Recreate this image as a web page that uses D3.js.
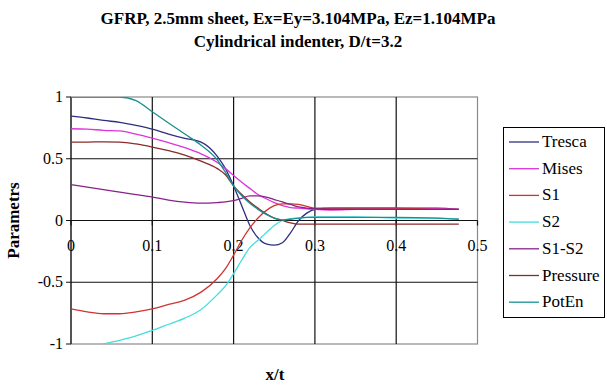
<!DOCTYPE html>
<html>
<head>
<meta charset="utf-8">
<script src="https://cdn.jsdelivr.net/npm/d3@7"></script>
<style>
  body { margin: 0; background: #fff; }
  svg { display: block; }
  svg text { font-family: "Liberation Serif", "Times New Roman", serif; }
</style>
</head>
<body>
<script>
// x/t sample points shared by all series
const xValues = [0, 0.02, 0.04, 0.06, 0.08, 0.1, 0.12, 0.14, 0.16, 0.18, 0.19, 0.2, 0.21, 0.22,
    0.23, 0.24, 0.25, 0.26, 0.27, 0.28, 0.29, 0.3, 0.32, 0.35, 0.4, 0.45, 0.477];

const tresca = [0.846, 0.83, 0.81, 0.795, 0.77, 0.74, 0.70, 0.665, 0.635, 0.52, 0.42, 0.28, 0.12, -0.04,
    -0.14, -0.19, -0.2, -0.18, -0.1, 0.0, 0.06, 0.09, 0.1, 0.1, 0.1, 0.1, 0.09];
const mises = [0.743, 0.74, 0.73, 0.725, 0.70, 0.667, 0.63, 0.59, 0.54, 0.47, 0.42, 0.365, 0.31, 0.26,
    0.21, 0.176, 0.145, 0.12, 0.105, 0.1, 0.095, 0.09, 0.085, 0.09, 0.095, 0.095, 0.09];
const s1 = [-0.716, -0.74, -0.755, -0.755, -0.74, -0.716, -0.68, -0.645, -0.58, -0.47, -0.39, -0.28, -0.16, -0.06,
    0.02, 0.08, 0.12, 0.135, 0.135, 0.13, 0.115, 0.1, 0.1, 0.1, 0.1, 0.09, 0.09];
const s2 = [-1.08, -1.04, -1.0, -0.97, -0.935, -0.89, -0.84, -0.79, -0.72, -0.6, -0.53, -0.43, -0.32, -0.22,
    -0.16, -0.1, -0.04, 0.0, 0.015, 0.02, 0.025, 0.03, 0.03, 0.03, 0.02, 0.02, 0.01];
const s1MinusS2 = [0.29, 0.27, 0.25, 0.23, 0.21, 0.19, 0.165, 0.148, 0.14, 0.145, 0.15, 0.16, 0.18, 0.2,
    0.2, 0.19, 0.17, 0.15, 0.13, 0.11, 0.1, 0.095, 0.09, 0.09, 0.09, 0.09, 0.09];
const pressure = [0.635, 0.635, 0.637, 0.635, 0.62, 0.595, 0.565, 0.53, 0.48, 0.42, 0.37, 0.28, 0.21, 0.15,
    0.1, 0.055, 0.02, 0.0, -0.02, -0.03, -0.03, -0.03, -0.03, -0.03, -0.03, -0.03, -0.03];
const potEn = [1.0, 1.0, 1.0, 1.0, 0.97, 0.88, 0.79, 0.7, 0.61, 0.49, 0.39, 0.28, 0.2, 0.14,
    0.09, 0.05, 0.02, 0.005, 0.01, 0.02, 0.025, 0.025, 0.025, 0.025, 0.025, 0.02, 0.01];

const seriesNames = ["Tresca", "Mises", "S1", "S2", "S1-S2", "Pressure", "PotEn"];
const seriesValues = [tresca, mises, s1, s2, s1MinusS2, pressure, potEn];
const seriesColors = ["#2f2f80", "#dd33dd", "#d03333", "#44dddd", "#882288", "#8b2a2a", "#1a9090"];

const xTicks = [0, 0.1, 0.2, 0.3, 0.4, 0.5];
const yTicks = [-1, -0.5, 0, 0.5, 1];
const titleLines = ["GFRP, 2.5mm sheet, Ex=Ey=3.104MPa, Ez=1.104MPa", "Cylindrical indenter, D/t=3.2"];

const width = 607, height = 386;
const plot = { left: 71, right: 477.5, top: 97, bottom: 344 };
const fontFamily = "Liberation Serif";

const svg = d3.select("body").append("svg")
    .attr("width", width)
    .attr("height", height);

const x = d3.scaleLinear().domain([0, 0.5]).range([plot.left, plot.right]);
const y = d3.scaleLinear().domain([-1, 1]).range([plot.bottom, plot.top]);

// small helper so every label gets the same serif face
function addText(sel, size, weight) {
    return sel.attr("font-family", fontFamily)
        .style("font-family", "'Liberation Serif', 'Times New Roman', serif")
        .attr("font-size", size)
        .attr("font-weight", weight || "normal");
}

// title
addText(svg.selectAll("text.title")
    .data(titleLines)
    .enter()
    .append("text")
    .attr("class", "title")
    .attr("x", 298)
    .attr("y", (d, i) => 24 + i * 23)
    .attr("text-anchor", "middle")
    .text(d => d), 17, "bold");

// plot frame: top/right/bottom grey
svg.append("rect")
    .attr("x", plot.left)
    .attr("y", plot.top)
    .attr("width", plot.right - plot.left)
    .attr("height", plot.bottom - plot.top)
    .attr("fill", "none")
    .attr("stroke", "#8a8a8a")
    .attr("stroke-width", 1.2);

// x tick labels sit below the zero line
addText(svg.selectAll("text.xtick")
    .data(xTicks)
    .enter()
    .append("text")
    .attr("class", "xtick")
    .attr("x", d => x(d))
    .attr("y", y(0) + 30)
    .attr("text-anchor", "middle")
    .text(d => d3.format("")(d)), 16);

addText(svg.selectAll("text.ytick")
    .data(yTicks)
    .enter()
    .append("text")
    .attr("class", "ytick")
    .attr("x", plot.left - 8)
    .attr("y", d => y(d) + 5)
    .attr("text-anchor", "end")
    .text(d => d), 16);

// gridlines
svg.selectAll("line.vgrid")
    .data(xTicks.slice(0, -1))
    .enter()
    .append("line")
    .attr("x1", d => x(d)).attr("x2", d => x(d))
    .attr("y1", plot.top).attr("y2", plot.bottom)
    .attr("stroke", "#111")
    .attr("stroke-width", 1.2);

svg.selectAll("line.hgrid")
    .data(yTicks.slice(1, -1))
    .enter()
    .append("line")
    .attr("x1", plot.left - 5).attr("x2", plot.right)
    .attr("y1", d => y(d)).attr("y2", d => y(d))
    .attr("stroke", "#111")
    .attr("stroke-width", 1.2);

svg.append("line")
    .attr("x1", plot.left - 5).attr("x2", plot.left)
    .attr("y1", y(-1)).attr("y2", y(-1))
    .attr("stroke", "#111");
svg.append("line")
    .attr("x1", plot.left - 5).attr("x2", plot.left)
    .attr("y1", y(1)).attr("y2", y(1))
    .attr("stroke", "#111");

// tick marks under the zero line
svg.selectAll("line.xtickmark")
    .data(xTicks)
    .enter()
    .append("line")
    .attr("x1", d => x(d)).attr("x2", d => x(d))
    .attr("y1", y(0)).attr("y2", y(0) + 5)
    .attr("stroke", "#111")
    .attr("stroke-width", 1.2);

// series
svg.append("clipPath").attr("id", "plotClip")
    .append("rect")
    .attr("x", plot.left).attr("y", plot.top)
    .attr("width", plot.right - plot.left)
    .attr("height", plot.bottom - plot.top);

const line = d3.line()
    .x(d => x(d[0]))
    .y(d => y(d[1]))
    .curve(d3.curveMonotoneX);

const series = seriesNames.map((name, i) => ({
    name,
    color: seriesColors[i],
    points: xValues.map((xv, j) => [xv, seriesValues[i][j]])
}));

svg.append("g")
    .attr("clip-path", "url(#plotClip)")
    .selectAll("path")
    .data(series)
    .enter()
    .append("path")
    .attr("d", d => line(d.points))
    .attr("fill", "none")
    .attr("stroke", d => d.color)
    .attr("stroke-width", 1.3);

// axis titles
addText(svg.append("text")
    .attr("transform", "translate(19," + y(0) + ") rotate(-90)")
    .attr("text-anchor", "middle")
    .text("Parametrs"), 17, "bold");

addText(svg.append("text")
    .attr("x", 275)
    .attr("y", 380)
    .attr("text-anchor", "middle")
    .text("x/t"), 17, "bold");

// legend
const legend = svg.append("g");
legend.append("rect")
    .attr("x", 503.5).attr("y", 127.5)
    .attr("width", 101).attr("height", 190)
    .attr("fill", "#fff")
    .attr("stroke", "#000");

const items = legend.selectAll("g.item")
    .data(series)
    .enter()
    .append("g")
    .attr("transform", (d, i) => "translate(0," + (142 + i * 26.7) + ")");

items.append("line")
    .attr("x1", 509).attr("x2", 539)
    .attr("stroke", d => d.color)
    .attr("stroke-width", 1.3);

addText(items.append("text")
    .attr("x", 542)
    .attr("y", 5)
    .text(d => d.name), 17);
</script>
</body>
</html>
